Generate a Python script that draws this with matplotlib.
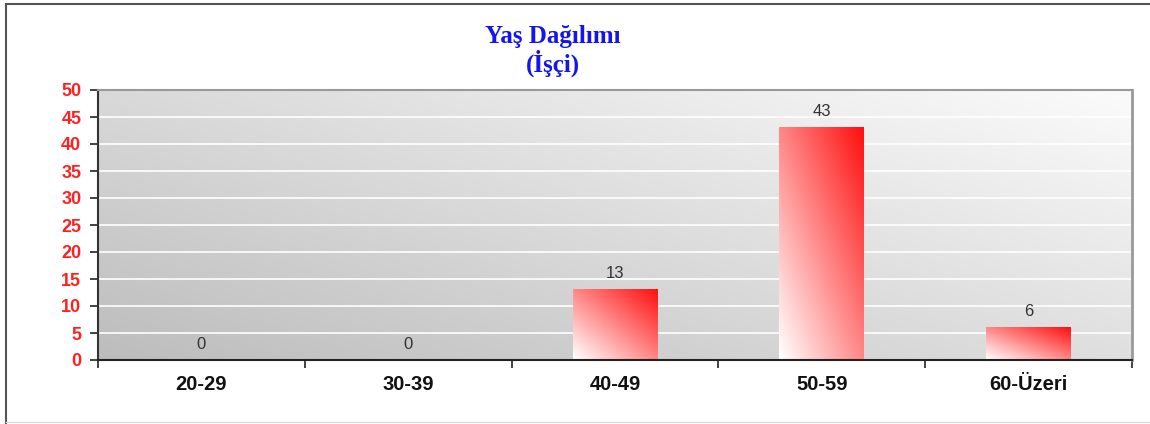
import numpy as np
import matplotlib.pyplot as plt
from matplotlib.lines import Line2D
from matplotlib.colors import LinearSegmentedColormap

categories = ['20-29', '30-39', '40-49', '50-59', '60-Üzeri']
values = [0, 0, 13, 43, 6]
yticks = [0, 5, 10, 15, 20, 25, 30, 35, 40, 45, 50]
title = 'Yaş Dağılımı\n(İşçi)'

plt.rcParams['font.family'] = ['Liberation Sans', 'DejaVu Sans']

fig = plt.figure(figsize=(11.5, 4.24), dpi=100)
ax = fig.add_axes([98 / 1150, 64 / 424, 1034 / 1150, 270 / 424])

x = np.arange(len(categories))

# diagonal grey background (dark bottom-left -> light top-right)
gx, gy = np.meshgrid(np.linspace(0, 1, 200), np.linspace(0, 1, 100))
bg = 0.74 + 0.245 * (0.55 * gx + 0.45 * gy)
ax.imshow(np.dstack([bg, bg, bg]), extent=[0, 1, 0, 1], transform=ax.transAxes,
          origin='lower', aspect='auto', zorder=0, interpolation='bilinear')

for yv in yticks[1:-1]:
    ax.axhline(yv, color='white', lw=1.2, zorder=1)

# bars with white -> red diagonal gradient
cmap = LinearSegmentedColormap.from_list('wr', ['#ffffff', '#ff1010'])
bw = 0.41
bx, by = np.meshgrid(np.linspace(0, 1, 60), np.linspace(0, 1, 60))
grad = (bx + by) / 2
bars = ax.bar(x, values, width=bw, color='none', edgecolor='none', zorder=2)
for b, v in zip(bars, values):
    if v > 0:
        ax.imshow(grad, cmap=cmap, vmin=0, vmax=1, origin='lower', aspect='auto',
                  extent=[b.get_x(), b.get_x() + b.get_width(), 0, v],
                  zorder=2, interpolation='bilinear')
    ax.annotate(str(v), (b.get_x() + b.get_width() / 2, v), xytext=(0, 6),
                textcoords='offset points', ha='center', va='bottom',
                fontsize=12, color='#333333', zorder=3)
ax.set_xlim(-0.5, len(categories) - 0.5)
ax.set_ylim(0, 50)

ax.set_yticks(yticks)
ax.set_yticklabels([str(t) for t in yticks], color='#ff2020', fontweight='bold', fontsize=13)
ax.tick_params(axis='y', length=6, width=1.2, color='#222222', pad=6)

ax.set_xticks(x)
ax.set_xticklabels(categories, fontweight='bold', fontsize=14.5, color='#111111')
ax.set_xticks(np.arange(-0.5, len(categories)), minor=True)
ax.tick_params(axis='x', which='major', length=0, pad=11)
ax.tick_params(axis='x', which='minor', length=6, width=1.2, color='#222222')

ax.spines['left'].set_color('#333333')
ax.spines['bottom'].set_color('#222222')
ax.spines['left'].set_linewidth(1.5)
ax.spines['bottom'].set_linewidth(1.5)
ax.spines['top'].set_color('#999999')
ax.spines['right'].set_color('#999999')
ax.spines['top'].set_linewidth(1.5)
ax.spines['right'].set_linewidth(2)

fig.text(553 / 1150, 1 - 51 / 424, title, ha='center', va='center',
         fontsize=18, fontweight='bold', color='#1414ee',
         family=['Liberation Serif', 'DejaVu Serif'], linespacing=1.1)

# outer frame
fig.add_artist(Line2D([6 / 1150, 1], [1 - 4 / 424, 1 - 4 / 424], color='#555555', lw=1.5))
fig.add_artist(Line2D([6 / 1150, 6 / 1150], [0, 1 - 4 / 424], color='#555555', lw=1.5))
fig.add_artist(Line2D([6 / 1150, 1], [2 / 424, 2 / 424], color='#dddddd', lw=1))

plt.savefig('out.png', dpi=100)
